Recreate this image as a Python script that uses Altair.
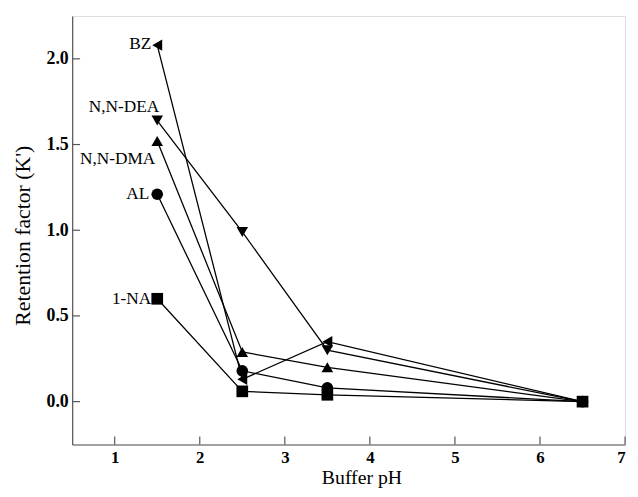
import altair as alt
import pandas as pd

# ---- data ----
ph = [1.5, 2.5, 3.5, 6.5]
series_names = ["BZ", "N,N-DEA", "N,N-DMA", "AL", "1-NA"]
bz = [2.08, 0.13, 0.35, 0.0]
dea = [1.64, 0.99, 0.30, 0.0]
dma = [1.52, 0.29, 0.20, 0.0]
al = [1.21, 0.18, 0.08, 0.0]
na = [0.60, 0.06, 0.04, 0.0]
x_ticks = [1, 2, 3, 4, 5, 6, 7]
y_ticks = [0.0, 0.5, 1.0, 1.5, 2.0]

values = {"BZ": bz, "N,N-DEA": dea, "N,N-DMA": dma, "AL": al, "1-NA": na}
rows = []
for name in series_names:
    for p, v in zip(ph, values[name]):
        rows.append({"series": name, "ph": p, "k": v})
df = pd.DataFrame(rows)

shapes = ["triangle-left", "triangle-down", "triangle-up", "circle", "square"]
sizes = [135, 140, 140, 110, 100]

FONT = "Liberation Serif"
W, H = 560, 434

xscale = alt.Scale(domain=[0.5, 7], nice=False, zero=False)
yscale = alt.Scale(domain=[-0.25, 2.25], nice=False, zero=False)

xaxis = alt.Axis(values=x_ticks, format="d", ticks=False, grid=False,
                 labelFont=FONT, labelFontSize=17, labelFontWeight="bold",
                 labelColor="black", labelPadding=5,
                 domainColor="#555", domainWidth=1.2,
                 title="Buffer pH", titleFont=FONT, titleFontSize=20,
                 titleFontWeight="normal", titleColor="black",
                 titleX=293, titleY=34, titleBaseline="middle")
yaxis = alt.Axis(values=y_ticks, format=".1f", ticks=False, grid=False,
                 labelFont=FONT, labelFontSize=18, labelFontWeight="bold",
                 labelColor="black", labelPadding=4,
                 domainColor="#555", domainWidth=1.2,
                 title="Retention factor (K')", titleFont=FONT, titleFontSize=22,
                 titleFontWeight="normal", titleColor="black",
                 titleX=-50, titleY=222, titleBaseline="middle")

base = alt.Chart(df)

lines = base.mark_line(color="black", strokeWidth=1.3).encode(
    x=alt.X("ph:Q", scale=xscale, axis=xaxis),
    y=alt.Y("k:Q", scale=yscale, axis=yaxis),
    detail="series:N",
)

points = base.mark_point(filled=True, color="black", opacity=1).encode(
    x=alt.X("ph:Q", scale=xscale),
    y=alt.Y("k:Q", scale=yscale),
    shape=alt.Shape("series:N", scale=alt.Scale(domain=series_names, range=shapes), legend=None),
    size=alt.Size("series:N", scale=alt.Scale(domain=series_names, range=sizes), legend=None),
)

offsets = {"BZ": (-6, -1), "N,N-DEA": (2, -14), "N,N-DMA": (-2, 18),
           "AL": (-8, 0), "1-NA": (-6, 0)}
label_layers = []
for name in series_names:
    dx, dy = offsets[name]
    ldf = pd.DataFrame([{"series": name, "ph": ph[0], "k": values[name][0]}])
    label_layers.append(
        alt.Chart(ldf).mark_text(font=FONT, fontSize=17.5, color="black",
                                 align="right", baseline="middle", dx=dx, dy=dy)
        .encode(x=alt.X("ph:Q", scale=xscale), y=alt.Y("k:Q", scale=yscale), text="series:N")
    )

xt = alt.Chart(pd.DataFrame({"t": x_ticks})).mark_rule(color="#555", strokeWidth=1.2).encode(
    x=alt.X("t:Q", scale=xscale), y=alt.value(H), y2=alt.value(H - 8))
yt = alt.Chart(pd.DataFrame({"t": y_ticks})).mark_rule(color="#555", strokeWidth=1.2).encode(
    y=alt.Y("t:Q", scale=yscale), x=alt.value(0), x2=alt.value(8))

chart = alt.layer(xt, yt, lines, points, *label_layers).properties(
    width=W, height=H,
    autosize=alt.AutoSizeParams(type="none"),
    padding={"left": 65, "top": 5, "right": 5, "bottom": 42},
).configure_view(stroke=None).configure(background="white")

chart.save("out.html", embed_options={"renderer": "svg", "actions": False})
